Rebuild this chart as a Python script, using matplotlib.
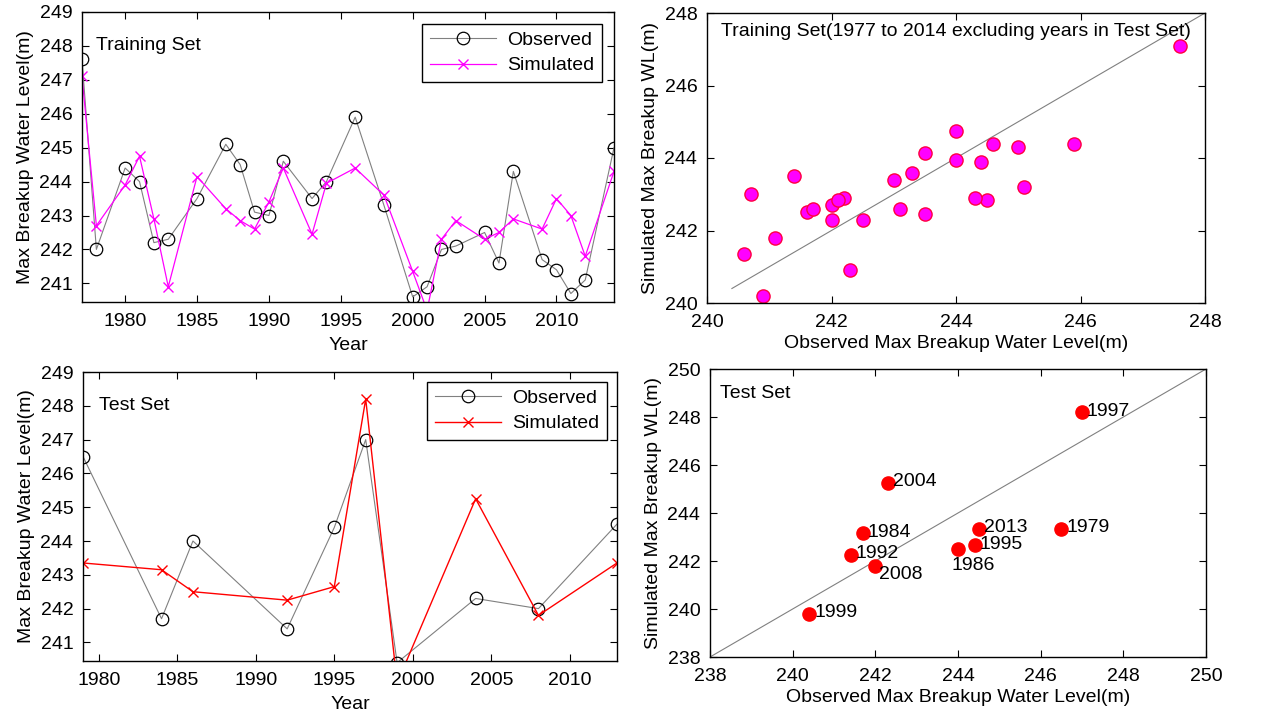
import matplotlib
matplotlib.use("Agg")
import matplotlib.pyplot as plt

plt.rcParams['font.family'] = ['Liberation Sans', 'DejaVu Sans']

# ---------------- data ----------------
train_years = [1977, 1978, 1980, 1981, 1982, 1983, 1985, 1987, 1988, 1989, 1990, 1991,
               1993, 1994, 1996, 1998, 2000, 2001, 2002, 2003, 2005, 2006, 2007, 2009,
               2010, 2011, 2012, 2014]
train_obs = [247.6, 242.0, 244.4, 244.0, 242.2, 242.3, 243.5, 245.1, 244.5, 243.1, 243.0, 244.6,
             243.5, 244.0, 245.9, 243.3, 240.6, 240.9, 242.0, 242.1, 242.5, 241.6, 244.3, 241.7,
             241.4, 240.7, 241.1, 245.0]
train_sim = [247.1, 242.7, 243.9, 244.75, 242.9, 240.9, 244.15, 243.2, 242.85, 242.6, 243.4, 244.4,
             242.45, 243.95, 244.4, 243.6, 241.35, 240.2, 242.3, 242.85, 242.3, 242.5, 242.9, 242.6,
             243.5, 243.0, 241.8, 244.3]

test_years = [1979, 1984, 1986, 1992, 1995, 1997, 1999, 2004, 2008, 2013]
test_obs = [246.5, 241.7, 244.0, 241.4, 244.4, 247.0, 240.4, 242.3, 242.0, 244.5]
test_sim = [243.35, 243.15, 242.5, 242.25, 242.65, 248.2, 239.8, 245.25, 241.8, 243.35]

# label placement offsets (data units) for test-set scatter labels
label_dx = {1986: -0.15, 2008: 0.1}
label_dy = {1986: -0.7, 2008: -0.35}

ylab_ts = 'Max Breakup Water Level(m)'
ylab_sc = 'Simulated Max Breakup WL(m)'
xlab_sc = 'Observed Max Breakup Water Level(m)'

FS = 14

fig = plt.figure(figsize=(12.71, 7.21), dpi=100)
W, H = 1271, 721


def ax_at(l, r, t, b):
    return fig.add_axes([l / W, 1 - b / H, (r - l) / W, (b - t) / H])


def style(ax):
    ax.tick_params(direction='in', top=True, right=True, length=5, width=0.8,
                   labelsize=FS)
    ax.tick_params(axis='x', pad=8)
    ax.tick_params(axis='y', pad=7)
    for s in ax.spines.values():
        s.set_linewidth(1.0)


def legend(ax, pad):
    leg = ax.legend(loc='upper right', fontsize=FS, fancybox=False, edgecolor='black',
                    framealpha=1, borderaxespad=pad, handlelength=3.4, borderpad=0.4,
                    labelspacing=0.4, handletextpad=0.6)
    leg.get_frame().set_linewidth(1.0)


# ---- top-left: training time series ----
ax1 = ax_at(82, 614, 12, 302)
ax1.plot(train_years, train_obs, color='gray', lw=0.8, marker='o', ms=9,
         mfc='none', mec='black', mew=0.9, label='Observed')
ax1.plot(train_years, train_sim, color='magenta', lw=0.9, marker='x', ms=7,
         mew=1.0, label='Simulated')
ax1.set_xlim(1977, 2014)
ax1.set_ylim(240.45, 249)
ax1.set_xticks([1980, 1985, 1990, 1995, 2000, 2005, 2010])
ax1.set_yticks(range(241, 250))
ax1.set_xlabel('Year', fontsize=FS, labelpad=5)
ax1.set_ylabel(ylab_ts, fontsize=FS, labelpad=4)
ax1.text(1978.0, 248.0, 'Training Set', fontsize=FS, va='center')
legend(ax1, 0.6)
style(ax1)

# ---- top-right: training scatter ----
ax2 = ax_at(707, 1205, 13, 303)
ax2.plot([240.4, 248], [240.4, 248], color='gray', lw=0.8)
ax2.plot(train_obs, train_sim, ls='none', marker='o', ms=9.5, mfc='magenta',
         mec='#ff0040', mew=1.0, clip_on=False)
ax2.set_xlim(240, 248)
ax2.set_ylim(240, 248)
ax2.set_xticks([240, 242, 244, 246, 248])
ax2.set_yticks([240, 242, 244, 246, 248])
ax2.set_xlabel(xlab_sc, fontsize=FS, labelpad=3)
ax2.set_ylabel(ylab_sc, fontsize=FS, labelpad=4)
ax2.text(240.22, 247.5, 'Training Set(1977 to 2014 excluding years in Test Set)',
         fontsize=FS, va='center')
style(ax2)

# ---- bottom-left: test time series ----
ax3 = ax_at(83, 617, 372, 661)
ax3.plot(test_years, test_obs, color='gray', lw=0.8, marker='o', ms=9,
         mfc='none', mec='black', mew=0.9, label='Observed')
ax3.plot(test_years, test_sim, color='red', lw=1.0, marker='x', ms=7,
         mew=1.0, label='Simulated')
ax3.set_xlim(1979, 2013)
ax3.set_ylim(240.45, 249)
ax3.set_xticks([1980, 1985, 1990, 1995, 2000, 2005, 2010])
ax3.set_yticks(range(241, 250))
ax3.set_xlabel('Year', fontsize=FS, labelpad=5)
ax3.set_ylabel(ylab_ts, fontsize=FS, labelpad=4)
ax3.text(1980.0, 248.0, 'Test Set', fontsize=FS, va='center')
legend(ax3, 0.5)
style(ax3)

# ---- bottom-right: test scatter ----
ax4 = ax_at(710, 1206, 369, 657)
ax4.plot([238, 250], [238, 250], color='gray', lw=0.8)
ax4.plot(test_obs, test_sim, ls='none', marker='o', ms=9.5, mfc='red',
         mec='red', mew=1.0)
for yr, xo, yo in zip(test_years, test_obs, test_sim):
    dx = label_dx.get(yr, 0.12)
    dy = label_dy.get(yr, 0.05)
    ax4.text(xo + dx, yo + dy, str(yr), fontsize=14, va='center', ha='left')
ax4.set_xlim(238, 250)
ax4.set_ylim(238, 250)
ax4.set_xticks(range(238, 251, 2))
ax4.set_yticks(range(238, 251, 2))
ax4.set_xlabel(xlab_sc, fontsize=FS, labelpad=3)
ax4.set_ylabel(ylab_sc, fontsize=FS, labelpad=4)
ax4.text(238.25, 249.0, 'Test Set', fontsize=FS, va='center')
style(ax4)

fig.savefig('out.png', dpi=100)
